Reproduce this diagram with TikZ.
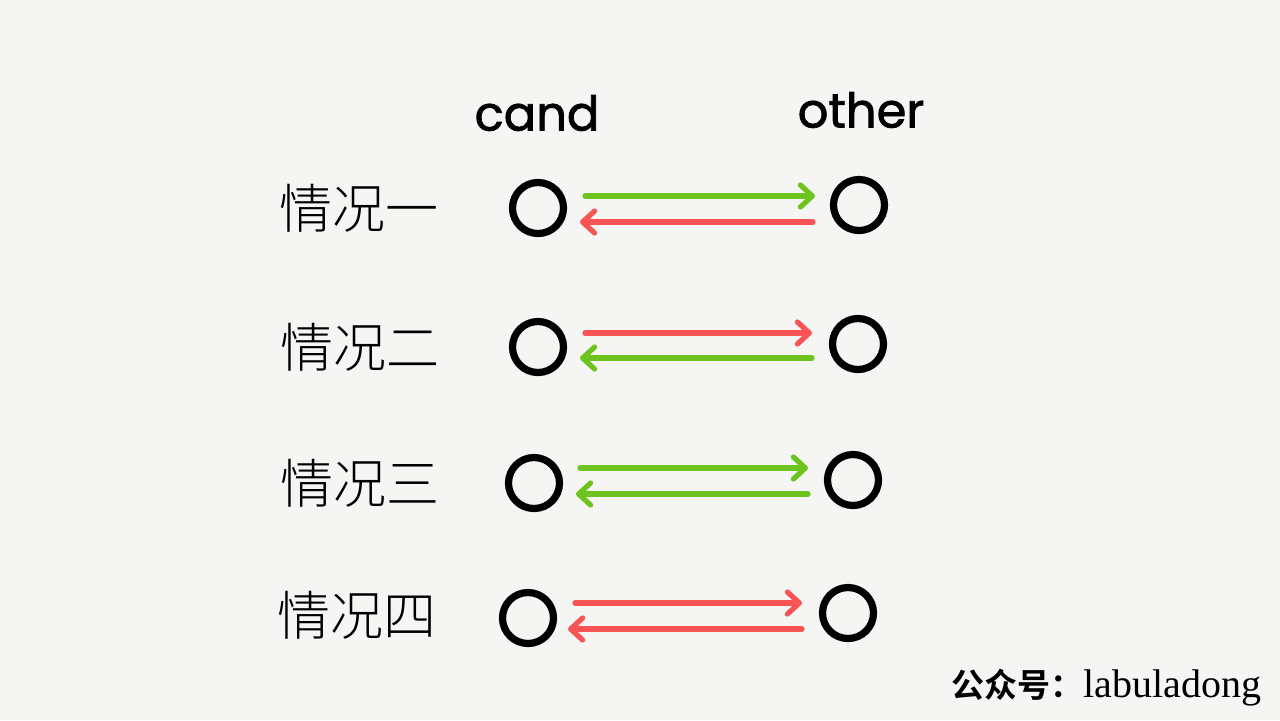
\documentclass[tikz,border=0pt]{standalone}
\usepackage{fontspec}
\usetikzlibrary{arrows.meta,calc}
\setmainfont{Liberation Serif}
\newfontfamily\cjk{Noto Sans CJK SC}[BoldFont={Noto Sans CJK SC Bold}]
\newfontfamily\cjkl{Noto Sans CJK SC Light}
\newfontfamily\hand{Poppins}[FakeBold=1.6]
\definecolor{bg}{RGB}{245,245,243}
\definecolor{agreen}{RGB}{110,196,30}
\definecolor{ared}{RGB}{248,84,84}
\tikzset{
  pt/.style={circle,draw=black,line width=3.6pt,minimum size=25.5pt,inner sep=0pt},
  lab/.style={font=\cjkl\fontsize{26.5}{26.5}\selectfont,inner sep=0pt},
  head/.style={font=\hand\fontsize{24}{24}\selectfont,inner sep=0pt},
  arr/.style={line width=2.6pt,line cap=round,-{Straight Barb[length=6pt,width=11pt,line width=2.6pt,round]}},
  garr/.style={arr,draw=agreen},
  rarr/.style={arr,draw=ared}
}
\begin{document}
\begin{tikzpicture}[x=0.5pt,y=-0.5pt]
\fill[bg] (0,0) rectangle (1280,720);
\useasboundingbox (0,0) rectangle (1280,720);
\node[head] (hc) at (537,113) {cand};
\node[head] (ho) at (861,110) {other};
% rows
\node[pt] (c1) at (538,208) {}; \node[pt] (o1) at (859,205) {};
\node[pt] (c2) at (538,347) {}; \node[pt] (o2) at (858,344) {};
\node[pt] (c3) at (534,483) {}; \node[pt] (o3) at (853,480) {};
\node[pt] (c4) at (528,618) {}; \node[pt] (o4) at (848,613) {};
\node[lab] (l1) at (359,208) {情况一};
\node[lab] (l2) at (360,347) {情况二};
\node[lab] (l3) at (360,483) {情况三};
\node[lab] (l4) at (357,615) {情况四};
% arrows
\draw[garr] ($(c1)+(47,-12)$) -- ($(o1)+(-44,-9)$);
\draw[rarr] ($(o1)+(-46,17)$) -- ($(c1)+(42,14)$);
\draw[rarr] ($(c2)+(47,-14)$) -- ($(o2)+(-46,-11)$);
\draw[garr] ($(o2)+(-46,14)$) -- ($(c2)+(42,11)$);
\draw[garr] ($(c3)+(46,-15)$) -- ($(o3)+(-45,-12)$);
\draw[garr] ($(o3)+(-45,14)$) -- ($(c3)+(42,11)$);
\draw[rarr] ($(c4)+(47,-15)$) -- ($(o4)+(-46,-10)$);
\draw[rarr] ($(o4)+(-46,16)$) -- ($(c4)+(40,11)$);
% watermark
\node[anchor=base east,inner sep=0pt] (wm) at (1262,697) {{\cjk\bfseries\fontsize{16.5}{16.5}\selectfont 公众号：}{\fontsize{20}{20}\selectfont labuladong}};
\end{tikzpicture}
\end{document}
